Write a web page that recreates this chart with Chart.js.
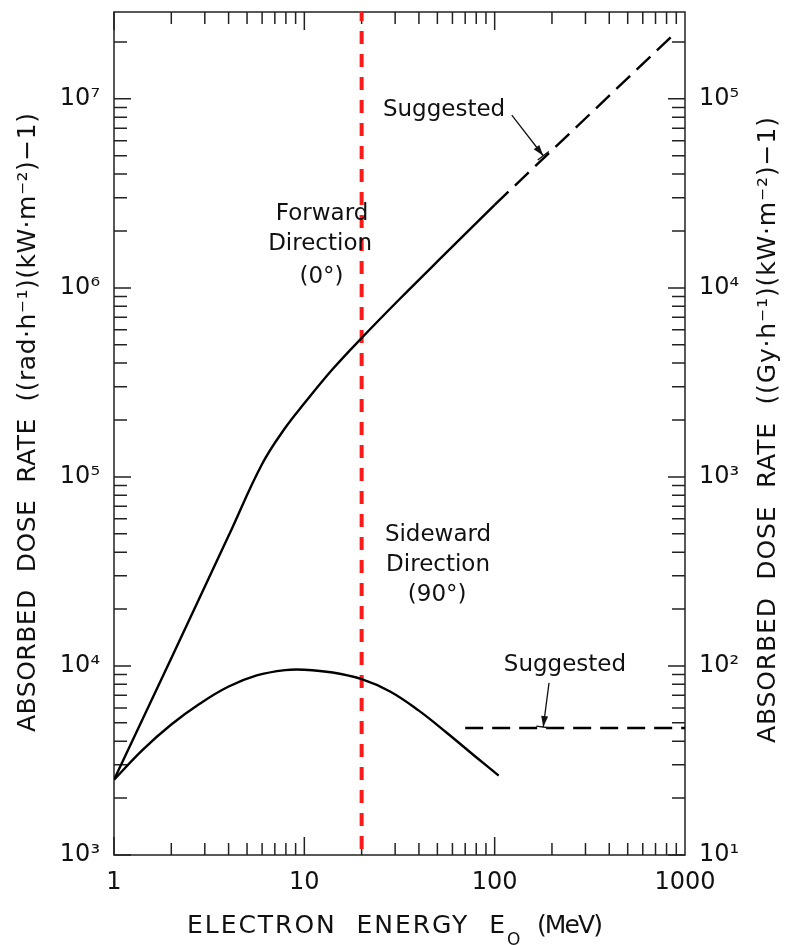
<!DOCTYPE html>
<html>
<head>
<meta charset="utf-8">
<script src="https://cdn.jsdelivr.net/npm/chart.js@4"></script>
<style>
  html, body { margin: 0; padding: 0; background: #fff; }
  #wrap { width: 787px; height: 945px; position: relative; }
</style>
</head>
<body>
<div id="wrap"><canvas id="dose"></canvas></div>
<script>
"use strict";

// electron energy E0 (MeV) vs absorbed dose rate ((rad/h)/(kW/m2))
var forwardE = [1, 2, 4, 6, 7.94, 10, 14.1, 20, 31.6, 56.2, 100];
var forwardRate = [2500, 11000, 48800, 117000, 182000, 245000, 372000, 543000, 871000, 1.55e6, 2.75e6];
var forwardSugE = [100, 900];
var forwardSugRate = [2.75e6, 2.26e7];

var sideE = [1, 1.41, 2, 2.82, 3.98, 5.62, 7.94, 10, 14.1, 20, 28.2, 39.8, 56.2, 79.4, 105];
var sideRate = [2500, 3590, 4900, 6310, 7760, 8910, 9510, 9550, 9230, 8510, 7330, 5820, 4420, 3310, 2630];
var sideSugE = [70, 1000];
var sideSugRate = [4700, 4700];

// red marker at 20 MeV
var markerE = [20, 20];
var markerRate = [1e3, 2.88e7];

var xRange = [1, 1000];
var yRange = [1e3, 2.88e7];
var gyPerRad = 0.01;

var FONT = "'DejaVu Sans', sans-serif";
var SUP = { "0": "\u2070", "1": "\u00b9", "2": "\u00b2", "3": "\u00b3", "4": "\u2074",
            "5": "\u2075", "6": "\u2076", "7": "\u2077", "8": "\u2078", "9": "\u2079" };

function isDecade(v) {
  var l = Math.log10(v);
  return Math.abs(l - Math.round(l)) < 1e-6;
}
function powLabel(v) {
  if (!isDecade(v)) return "";
  var e = String(Math.round(Math.log10(v)));
  return "10" + e.split("").map((c) => SUP[c]).join("");
}
function pts(xs, ys) {
  return xs.map((x, i) => ({ x: x, y: ys[i] }));
}

// text notes and arrows, anchored in data space
var notes = [
  { text: "Suggested", x: 54.2, y: 8.75e6 },
  { text: "Forward", x: 12.4, y: 2.47e6 },
  { text: "Direction", x: 12.1, y: 1.71e6 },
  { text: "(0\u00b0)", x: 12.3, y: 1.14e6 },
  { text: "Sideward", x: 50.4, y: 49300 },
  { text: "Direction", x: 50.4, y: 34200 },
  { text: "(90\u00b0)", x: 49.9, y: 23800 },
  { text: "Suggested", x: 234, y: 10100 },
];
var arrows = [
  { from: [123, 8.2e6], to: [180, 5.0e6] },
  { from: [193, 8130], to: [180, 4750] },
];

function spacedText(ctx, text, x, y, width) {
  ctx.letterSpacing = "0px";
  var w = ctx.measureText(text).width;
  var n = Array.from(text).length;
  ctx.letterSpacing = ((width - w) / (n - 1)).toFixed(2) + "px";
  ctx.textAlign = "left";
  ctx.fillText(text, x, y);
  ctx.letterSpacing = "0px";
}

var framePlugin = {
  id: "frame",
  beforeDatasetsDraw(chart) {
    var ctx = chart.ctx, a = chart.chartArea;
    var sx = chart.scales.x, sy = chart.scales.y;
    ctx.save();
    ctx.strokeStyle = "#222";
    ctx.lineWidth = 1.5;
    ctx.strokeRect(a.left, a.top, a.right - a.left, a.bottom - a.top);
    ctx.beginPath();
    for (var d = 0; d < 3; d++) {
      for (var k = 1; k <= 9; k++) {
        var px = sx.getPixelForValue(k * Math.pow(10, d));
        var len = k === 1 ? 18 : 12;
        ctx.moveTo(px, a.bottom); ctx.lineTo(px, a.bottom - len);
        ctx.moveTo(px, a.top); ctx.lineTo(px, a.top + len);
      }
    }
    for (var e = 3; e < 8; e++) {
      for (var m = 1; m <= 9; m++) {
        var v = m * Math.pow(10, e);
        if (v > yRange[1]) break;
        var py = sy.getPixelForValue(v);
        var ln = m === 1 ? 17 : 13;
        ctx.moveTo(a.left, py); ctx.lineTo(a.left + ln, py);
        ctx.moveTo(a.right, py); ctx.lineTo(a.right - ln, py);
      }
    }
    ctx.stroke();
    ctx.restore();
  },
  afterDatasetsDraw(chart) {
    var ctx = chart.ctx;
    var sx = chart.scales.x, sy = chart.scales.y;
    ctx.save();
    ctx.fillStyle = "#111";
    ctx.strokeStyle = "#111";

    // notes
    ctx.font = "23px " + FONT;
    ctx.textAlign = "center";
    ctx.textBaseline = "middle";
    notes.forEach((n) => {
      ctx.fillText(n.text, sx.getPixelForValue(n.x), sy.getPixelForValue(n.y));
    });

    // arrows
    ctx.lineWidth = 1.3;
    arrows.forEach((ar) => {
      var x0 = sx.getPixelForValue(ar.from[0]), y0 = sy.getPixelForValue(ar.from[1]);
      var x1 = sx.getPixelForValue(ar.to[0]), y1 = sy.getPixelForValue(ar.to[1]);
      var ang = Math.atan2(y1 - y0, x1 - x0);
      ctx.beginPath();
      ctx.moveTo(x0, y0); ctx.lineTo(x1, y1);
      var px = -Math.sin(ang), py = Math.cos(ang);
      ctx.moveTo(x1 - px * 7, y1 - py * 7); ctx.lineTo(x1 + px * 7, y1 + py * 7);
      ctx.stroke();
      ctx.beginPath();
      ctx.moveTo(x1, y1);
      ctx.lineTo(x1 - Math.cos(ang) * 11 + px * 3.5, y1 - Math.sin(ang) * 11 + py * 3.5);
      ctx.lineTo(x1 - Math.cos(ang) * 11 - px * 3.5, y1 - Math.sin(ang) * 11 - py * 3.5);
      ctx.closePath();
      ctx.fill();
    });

    // axis titles
    ctx.font = "25px " + FONT;
    ctx.textBaseline = "middle";
    ctx.save();
    ctx.translate(28, 732);
    ctx.rotate(-Math.PI / 2);
    spacedText(ctx, "ABSORBED  DOSE  RATE  ((rad\u00b7h\u207b\u00b9)(kW\u00b7m\u207b\u00b2)\u22121)", 0, 0, 619);
    ctx.restore();
    ctx.save();
    ctx.translate(768, 743);
    ctx.rotate(-Math.PI / 2);
    spacedText(ctx, "ABSORBED  DOSE  RATE  ((Gy\u00b7h\u207b\u00b9)(kW\u00b7m\u207b\u00b2)\u22121)", 0, 0, 626);
    ctx.restore();

    ctx.textBaseline = "alphabetic";
    spacedText(ctx, "ELECTRON  ENERGY  E", 187, 933, 318);
    ctx.font = "17px " + FONT;
    ctx.textAlign = "left";
    ctx.fillText("O", 507, 945);
    ctx.font = "25px " + FONT;
    spacedText(ctx, "(MeV)", 537, 933, 66);
    ctx.restore();
  },
};

var lineBase = {
  borderColor: "#000",
  borderWidth: 2.4,
  pointRadius: 0,
  fill: false,
  tension: 0.4,
};

function fixY(width) {
  return (s) => { s.width = width; s.paddingTop = 0; s.paddingBottom = 0; };
}

var ctx = document.getElementById("dose").getContext("2d");
new Chart(ctx, {
  type: "line",
  data: {
    datasets: [
      Object.assign({}, lineBase, { label: "Forward (0\u00b0)", data: pts(forwardE, forwardRate) }),
      Object.assign({}, lineBase, { label: "Forward suggested", data: pts(forwardSugE, forwardSugRate), borderDash: [19, 9], tension: 0 }),
      Object.assign({}, lineBase, { label: "Sideward (90\u00b0)", data: pts(sideE, sideRate) }),
      Object.assign({}, lineBase, { label: "Sideward suggested", data: pts(sideSugE, sideSugRate), borderDash: [18, 9], tension: 0 }),
      Object.assign({}, lineBase, {
        label: "20 MeV", data: pts(markerE, markerRate), tension: 0,
        borderColor: "#ff1a1a", borderWidth: 4, borderDash: [13, 10], borderDashOffset: -6,
      }),
    ],
  },
  options: {
    responsive: true,
    maintainAspectRatio: false,
    animation: false,
    layout: { padding: { top: 12, left: 0, right: 0, bottom: 0 } },
    plugins: { legend: { display: false }, tooltip: { enabled: false } },
    scales: {
      x: {
        type: "logarithmic",
        min: xRange[0],
        max: xRange[1],
        grid: { display: false, drawTicks: false },
        border: { display: false },
        afterFit: (s) => { s.height = 90; s.paddingLeft = 0; s.paddingRight = 0; },
        ticks: {
          autoSkip: false,
          maxRotation: 0,
          padding: 13,
          color: "#111",
          font: { family: FONT, size: 24 },
          callback: (v) => (isDecade(v) ? String(Math.round(v)) : ""),
        },
      },
      y: {
        type: "logarithmic",
        position: "left",
        min: yRange[0],
        max: yRange[1],
        grid: { display: false, drawTicks: false },
        border: { display: false },
        afterFit: fixY(114),
        ticks: {
          autoSkip: false,
          padding: 14,
          color: "#111",
          font: { family: FONT, size: 24 },
          callback: (v) => powLabel(v),
        },
      },
      y2: {
        type: "logarithmic",
        position: "right",
        display: true,
        min: yRange[0] * gyPerRad,
        max: yRange[1] * gyPerRad,
        grid: { display: false, drawTicks: false },
        border: { display: false },
        afterFit: fixY(102),
        ticks: {
          autoSkip: false,
          padding: 14,
          color: "#111",
          font: { family: FONT, size: 24 },
          callback: (v) => powLabel(v),
        },
      },
    },
  },
  plugins: [framePlugin],
});
</script>
</body>
</html>
